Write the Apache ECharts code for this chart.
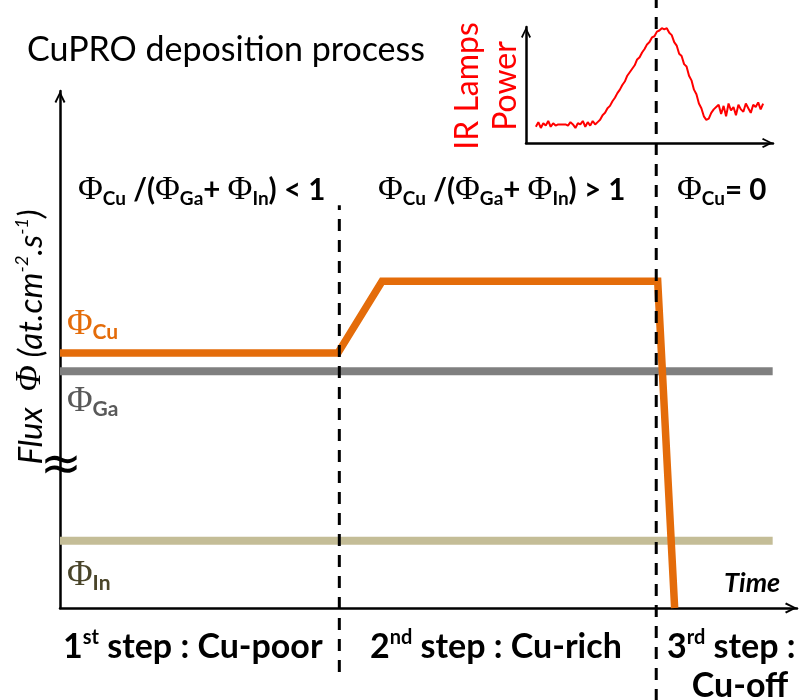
<!DOCTYPE html>
<html>
<head>
<meta charset="utf-8">
<script src="https://cdn.jsdelivr.net/npm/echarts@6/dist/echarts.min.js"></script>
<style>
  html, body { margin: 0; padding: 0; background: #fff; }
  #chart { width: 806px; height: 700px; }
</style>
</head>
<body>
<div id="chart"></div>
<script>
// main schematic: time in % of the process, flux in arbitrary units
const cuTime = [0, 37.7, 43.7, 81.1, 83.4];
const cuFlux = [49.3, 49.3, 63.2, 63.2, 0];
const gaTime = [0, 96.7];
const gaFlux = [45.8, 45.8];
const inTime = [0, 96.7];
const inFlux = [13, 13];

// step boundaries (dashed), each with its flux extent
const step1Time = [37.9, 37.9];
const step1Flux = [-12.4, 77.9];
const step2Time = [80.9, 80.9];
const step2Flux = [-18, 118];

// inset: IR lamps power, one reading per time unit starting at irStart
const irStart = 4;
const irPower = [
  14, 18, 13, 17, 15, 19, 14, 17, 15, 16, 16, 16, 16, 15, 18, 16, 13, 17, 16, 19, 14, 18, 15, 19, 16, 18,
  20, 24, 26, 30, 32, 36, 39, 43, 46, 50, 53, 58, 61, 64, 67, 72, 74, 78, 81, 85, 87, 91, 92, 96, 97, 99,
  98, 99, 95, 93, 87, 84, 77, 75, 68, 66, 58, 54, 46, 42, 34, 30, 23, 20, 21, 26, 29, 31,
  33, 25, 32, 23, 34, 28, 31, 24, 33, 29, 27, 34, 30, 26, 33, 31, 35, 29, 34
];

const pairs = (xs, ys) => xs.map((x, i) => [x, ys[i]]);

const chart = echarts.init(document.getElementById('chart'));

const arrowPath = 'path://M0,10 L5,0 L10,10 L8.4,11 L5,3.6 L1.6,11 Z';

const hiddenAxis = (grid, lineWidth, size) => ({
  type: 'value',
  gridIndex: grid,
  min: 0,
  max: 100,
  axisLine: {
    show: true,
    onZero: false,
    symbol: ['none', arrowPath],
    symbolSize: size,
    symbolOffset: [0, -size[1] / 2],
    lineStyle: { color: '#000', width: lineWidth }
  },
  axisTick: { show: false },
  axisLabel: { show: false },
  splitLine: { show: false }
});

const flatLine = (data, color, width, z) => ({
  type: 'line',
  data: data,
  symbol: 'none',
  silent: true,
  z: z,
  lineStyle: { color: color, width: width, cap: 'butt', join: 'miter' }
});

const dashLine = (data) => ({
  type: 'line',
  data: data,
  symbol: 'none',
  silent: true,
  clip: false,
  z: 10,
  lineStyle: { color: '#000', width: 3, type: [12, 9], cap: 'butt' }
});

// rich text styles
const rich = {
  t: { fontFamily: 'Lato', fontWeight: 'bold', fontSize: 29.5, fill: '#000', lineHeight: 36 },
  p: { fontFamily: 'Liberation Serif', fontSize: 34, fill: '#000', lineHeight: 36 },
  s: { fontFamily: 'Lato', fontWeight: 'bold', fontSize: 19, fill: '#000', lineHeight: 15, verticalAlign: 'bottom' },
  b: { fontFamily: 'Lato', fontWeight: 'bold', fontSize: 34, fill: '#000', lineHeight: 38 },
  sup: { fontFamily: 'Lato', fontWeight: 'bold', fontSize: 20, fill: '#000', lineHeight: 16, verticalAlign: 'top' }
};

const colored = (color) => ({
  p: Object.assign({}, rich.p, { fill: color, fontSize: 35 }),
  s: Object.assign({}, rich.s, { fill: color, fontSize: 21 })
});

const label = (x, y, text, extra) => ({
  type: 'text',
  x: x,
  y: y,
  silent: true,
  style: Object.assign({ text: text, rich: rich, verticalAlign: 'middle', align: 'left' }, extra || {})
});

const option = {
  animation: false,
  backgroundColor: '#fff',
  grid: [
    { left: 60, top: 91, width: 737, height: 517 },
    { left: 526, top: 27, width: 247, height: 116 }
  ],
  xAxis: [hiddenAxis(0, 2.5, [15, 12]), hiddenAxis(1, 2.5, [13, 11])],
  yAxis: [hiddenAxis(0, 2.5, [15, 12]), hiddenAxis(1, 2.5, [13, 11])],
  series: [
    flatLine(pairs(inTime, inFlux), '#c4bd97', 8, 2),
    flatLine(pairs(gaTime, gaFlux), '#808080', 8, 3),
    flatLine(pairs(cuTime, cuFlux), '#e46c0a', 7.5, 4),
    dashLine(pairs(step1Time, step1Flux)),
    dashLine(pairs(step2Time, step2Flux)),
    {
      type: 'line',
      xAxisIndex: 1,
      yAxisIndex: 1,
      data: irPower.map((v, i) => [irStart + i, v]),
      symbol: 'none',
      silent: true,
      lineStyle: { color: '#ff0000', width: 2 }
    }
  ],
  graphic: [
    label(27, 50, 'CuPRO deposition process', { fontFamily: 'Lato', fontSize: 34, fill: '#000' }),
    label(78, 190, '{p|Φ}{s|Cu}{t| /(}{p|Φ}{s|Ga}{t|+ }{p|Φ}{s|In}{t|) < 1}'),
    label(378, 190, '{p|Φ}{s|Cu}{t| /(}{p|Φ}{s|Ga}{t|+ }{p|Φ}{s|In}{t|) > 1}'),
    label(677, 190, '{p|Φ}{s|Cu}{t|= 0}'),
    label(67, 325, '{p|Φ}{s|Cu}', { rich: colored('#e46c0a') }),
    label(67, 402, '{p|Φ}{s|Ga}', { rich: colored('#595959') }),
    label(67, 576, '{p|Φ}{s|In}', { rich: colored('#4a452a') }),
    {
      type: 'text',
      x: 31,
      y: 337,
      rotation: Math.PI / 2,
      silent: true,
      style: {
        text: '{i|Flux  }{p|Φ}{i| (at.cm}{u|-2}{i|.s}{u|-1}{i|)}',
        align: 'center',
        verticalAlign: 'middle',
        rich: {
          i: { fontFamily: 'Lato', fontStyle: 'italic', fontSize: 33, fill: '#000', lineHeight: 36 },
          p: { fontFamily: 'Liberation Serif', fontStyle: 'italic', fontSize: 35, fill: '#000', lineHeight: 36 },
          u: { fontFamily: 'Lato', fontStyle: 'italic', fontSize: 18, fill: '#000', lineHeight: 15, verticalAlign: 'top' }
        }
      }
    },
    {
      type: 'text',
      x: 487,
      y: 86,
      rotation: Math.PI / 2,
      silent: true,
      style: {
        text: 'IR Lamps\nPower',
        align: 'center',
        verticalAlign: 'middle',
        fontFamily: 'Lato',
        fontSize: 32,
        lineHeight: 38,
        fill: '#ff0000'
      }
    },
    label(63, 647, '{b|1}{sup|st}{b| step : Cu-poor}'),
    label(370, 647, '{b|2}{sup|nd}{b| step : Cu-rich}'),
    label(667, 647, '{b|3}{sup|rd}{b| step :}'),
    label(740, 686, '{b|Cu-off}', { align: 'center' }),
    label(724, 583, 'Time', { fontFamily: 'Lato', fontWeight: 'bold', fontStyle: 'italic', fontSize: 27, fill: '#000' }),
    {
      type: 'text',
      x: 61,
      y: 467,
      silent: true,
      style: { text: '≈', align: 'center', verticalAlign: 'middle', fontFamily: 'DejaVu Sans', fontSize: 50, fill: '#000' }
    }
  ]
};

chart.setOption(option);
</script>
</body>
</html>
